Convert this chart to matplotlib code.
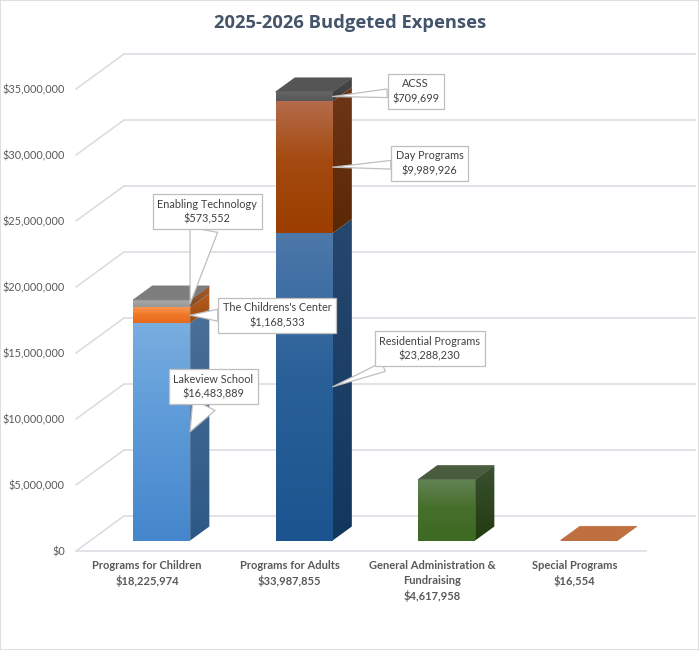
import numpy as np
import matplotlib
matplotlib.use("Agg")
import matplotlib.pyplot as plt
import matplotlib.colors as mcolors
from matplotlib.patches import Polygon, Rectangle

# ---------------- data ----------------
groups = ["Programs for Children", "Programs for Adults",
          "General Administration &\nFundraising", "Special Programs"]
group_totals = [18225974, 33987855, 4617958, 16554]

seg_names = ["Lakeview School", "The Childrens's Center", "Enabling Technology",
             "Residential Programs", "Day Programs", "ACSS",
             "General Administration", "Special Programs"]
seg_values = [16483889, 1168533, 573552,
              23288230, 9989926, 709699,
              4617958, 16554]
seg_group = [0, 0, 0, 1, 1, 1, 2, 3]
seg_labelled = [True, True, True, True, True, True, False, False]

y_ticks = [0, 5000000, 10000000, 15000000, 20000000, 25000000, 30000000, 35000000]

# ---------------- styles ----------------
# (front top, front mid, front bottom, side top, side bottom, top face)
seg_colors = [
    ("#78aee0", "#5d9ad8", "#4586cc", "#4b7099", "#2d5886", "#5b8fc6"),
    ("#fa9650", "#f07a2a", "#e8681a", "#b85e20", "#9a4810", "#f08a45"),
    ("#ababab", "#a2a2a2", "#989898", "#b0602a", "#7a4a2a", "#7d7d7d"),
    ("#4d78aa", "#2a6199", "#1b548f", "#27486e", "#12365c", "#3a5f8a"),
    ("#b46c4a", "#a44a10", "#9c3e00", "#6e3618", "#5a2804", "#8a4a2a"),
    ("#6a6a6a", "#5e5e5e", "#585858", "#484848", "#3d3d3d", "#555555"),
    ("#628354", "#466f2c", "#3e6a22", "#3a5030", "#223b10", "#4a5c3e"),
    ("#c47444", "#bd6e3e", "#b8683a", "#a05a30", "#a05a30", "#bf7040"),
]
# label box offsets in pixels (box centre relative to the anchor)
label_offsets = [(23, 45), (87, 0), (17, 92), (97, 38), (97, 4), (83, 5), (0, 0), (0, 0)]
label_tail = [2.3, 1.1, 2.6, 0.9, 0.8, 0.8, 0, 0]

W_PX, H_PX, DPI = 699, 650, 100
BW = 0.4          # bar width (category units)
DX = 0.3368       # full depth x shift (category units)
DY = 2.65e6       # full depth y shift (value units)
F0, F1 = 0.3, 0.7 # bar front/back depth fraction
GRID = "#dadae2"
TXT = "#595959"
FONT = "Lato"

fig = plt.figure(figsize=(W_PX / DPI, H_PX / DPI), dpi=DPI)
fig.patch.set_facecolor("white")
ax = fig.add_axes([76 / W_PX, 99 / H_PX, 619 / W_PX, 501.6 / H_PX])
XMAX = -0.5 + 619 / 142.5
ax.set_facecolor("none")
for s in ax.spines.values():
    s.set_visible(False)

# chart border
fig.patches.append(Rectangle((0.0007, 0.0007), 0.9986, 0.9986, transform=fig.transFigure,
                             fill=False, edgecolor="#d9d9d9", linewidth=1.2))

# walls / grid
for v in y_ticks:
    ax.plot([-0.5 + DX, XMAX], [v + DY, v + DY], color=GRID, lw=1.1, zorder=1, clip_on=False)
    ax.plot([-0.5, -0.5 + DX], [v, v + DY], color=GRID, lw=1.1, zorder=1, clip_on=False)
ax.plot([-0.5, len(groups) - 0.5], [0, 0], color=GRID, lw=1.1, zorder=1, clip_on=False)


def grad_face(verts, stops, z):
    poly = Polygon(verts, closed=True, facecolor="none", edgecolor="none", zorder=z)
    ax.add_patch(poly)
    xs = [p[0] for p in verts]
    ys = [p[1] for p in verts]
    n = 128
    t = np.linspace(0, 1, n)
    pos = np.linspace(0, 1, len(stops)) if len(stops) != 3 else np.array([0, 0.45, 1])
    cols = np.array([mcolors.to_rgb(c) for c in stops])
    img = np.stack([np.interp(t, pos, cols[:, k]) for k in range(3)], axis=-1)[:, None, :]
    im = ax.imshow(img, extent=(min(xs), max(xs), min(ys), max(ys)), origin="upper",
                   aspect="auto", interpolation="bilinear", zorder=z)
    im.set_clip_path(poly)
    return poly


bottoms = [0.0] * len(groups)
last_seg = {}
for k, g in enumerate(seg_group):
    last_seg[g] = k

anchors = []
for k, (v, g) in enumerate(zip(seg_values, seg_group)):
    b = bottoms[g]
    fc = seg_colors[k]
    x0 = g - BW / 2 + F0 * DX
    x1 = x0 + BW
    y0 = b + F0 * DY
    y1 = b + v + F0 * DY
    ddx = (F1 - F0) * DX
    ddy = (F1 - F0) * DY
    z = 2 + k * 0.01
    grad_face([(x0, y0), (x1, y0), (x1, y1), (x0, y1)], fc[0:3], z)
    grad_face([(x1, y0), (x1 + ddx, y0 + ddy), (x1 + ddx, y1 + ddy), (x1, y1)],
              [fc[3], fc[4]], z)
    if last_seg[g] == k:
        ax.add_patch(Polygon([(x0, y1), (x1, y1), (x1 + ddx, y1 + ddy), (x0 + ddx, y1 + ddy)],
                             closed=True, facecolor=fc[5], edgecolor=fc[5], lw=0.5, zorder=z + 0.005))
    anchors.append((x1, b + v / 2 + F0 * DY))
    bottoms[g] = b + v

# callout labels
for k, name in enumerate(seg_names):
    if not seg_labelled[k]:
        continue
    ax.annotate(f"{name}\n${seg_values[k]:,}", xy=anchors[k], xycoords="data",
                xytext=label_offsets[k], textcoords="offset pixels",
                ha="center", va="center", fontsize=7.8, family=FONT, color="#404040",
                linespacing=1.45, zorder=10,
                bbox=dict(boxstyle="square,pad=0.42", facecolor="white",
                          edgecolor="#bfbfbf", linewidth=0.9),
                arrowprops=dict(arrowstyle=f"wedge,tail_width={label_tail[k]},shrink_factor=0.5",
                                facecolor="white", edgecolor="#bfbfbf", linewidth=0.9,
                                shrinkA=0, shrinkB=0))

# category labels
for i, (name, tot) in enumerate(zip(groups, group_totals)):
    ax.annotate(f"{name}\n${tot:,}", xy=(i, 0), xycoords="data", xytext=(0, -9),
                textcoords="offset pixels", ha="center", va="top", fontsize=8.0,
                family=FONT, weight="bold", color=TXT, linespacing=1.4,
                annotation_clip=False)

ax.set_xlim(-0.5, XMAX)
ax.set_ylim(0, 38e6)
ax.set_xticks([])
ax.set_yticks(y_ticks)
ax.set_yticklabels([f"${v:,}" for v in y_ticks], family=FONT, fontsize=7.8, color=TXT)
ax.tick_params(axis="y", length=0, pad=8)

fig.text(350 / W_PX, 1 - 23 / H_PX, "2025-2026 Budgeted Expenses", ha="center", va="center",
         fontsize=13.2, family="Open Sans", weight="bold", color="#44546a")

fig.savefig("out.png", dpi=DPI, facecolor="white")
